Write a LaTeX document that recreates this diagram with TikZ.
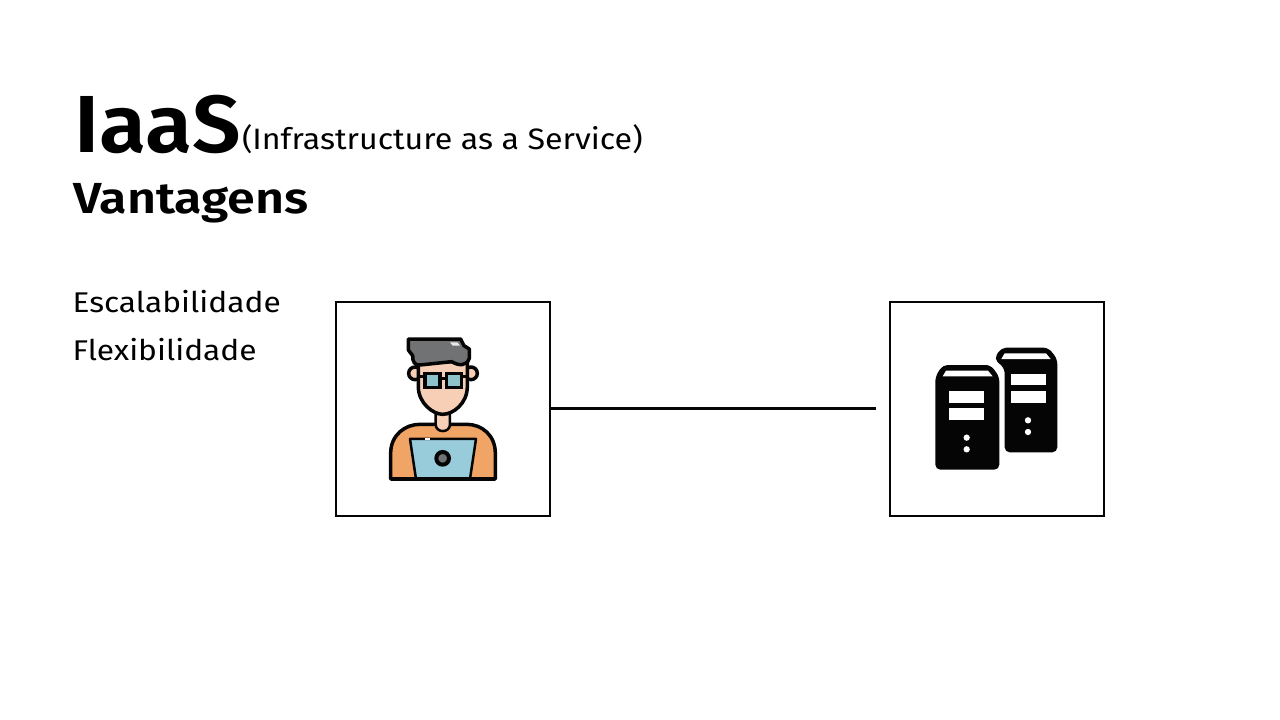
\documentclass[tikz,border=0pt]{standalone}
\usepackage{fontspec}
\setmainfont{Fira Sans}
\newfontfamily\titlefont[FakeStretch=1.06]{Fira Sans SemiBold}
\newfontfamily\subheadfont[FakeStretch=1.155]{Fira Sans SemiBold}
\newfontfamily\subtitlefont[FakeStretch=1.09]{Fira Sans}
\newfontfamily\listfont[FakeStretch=1.113]{Fira Sans}
\definecolor{hairgrey}{HTML}{707274}
\definecolor{skin}{HTML}{F6CFB6}
\definecolor{shirt}{HTML}{F0A566}
\definecolor{screen}{HTML}{98CCDB}
\definecolor{lens}{HTML}{8FC3CB}
\definecolor{ink}{HTML}{050505}
\tikzset{
  txt/.style={anchor=base west,inner sep=0pt,outer sep=0pt,text=black},
  iconbox/.style={draw=ink,line width=2.4pt,minimum width=214pt,minimum height=214pt,inner sep=0pt,fill=white},
  link/.style={draw=ink,line width=2.4pt},
  outl/.style={draw=ink,line width=3.5pt,line join=round,line cap=round}
}
\begin{document}
\begin{tikzpicture}[x=1pt,y=-1pt]
\useasboundingbox (0,0) rectangle (1280,720);
\fill[white] (0,0) rectangle (1280,720);

% Headings and list
\node[txt,font=\titlefont\fontsize{81}{81}\selectfont] (title) at (74,152) {IaaS};
\node[txt,font=\subtitlefont\fontsize{29.5}{30}\selectfont] (subtitle) at (242,149) {(Infrastructure as a Service)};
\node[txt,font=\subheadfont\fontsize{43.5}{44}\selectfont] (adv) at (73,213) {Vantagens};
\node[txt,font=\listfont\fontsize{28.5}{29}\selectfont] (esc) at (72.5,312) {Escalabilidade};
\node[txt,font=\listfont\fontsize{28.5}{29}\selectfont] (flex) at (72.5,360) {Flexibilidade};

% Boxes and link
\node[iconbox] (user) at (443,409) {};
\node[iconbox] (srv) at (997,409) {};
\coordinate (linkend) at (876,408.5);
\draw[link] (user.east |- linkend) -- (linkend);

% Person at a laptop
\begin{scope}[shift={(370,325)},x=0.3333pt,y=-0.3333pt]
  % ears
  \filldraw[outl,fill=skin] (135,145) circle (19);
  \filldraw[outl,fill=skin] (303,145) circle (19);
  % torso
  \filldraw[outl,fill=shirt] (62,462) -- (62,385) .. controls (62,330) and (105,298) .. (150,298)
     -- (290,298) .. controls (335,298) and (376,330) .. (376,385) -- (376,462) -- cycle;
  % neck
  \filldraw[outl,fill=skin,line width=2.5pt] (197,260) -- (197,298) .. controls (197,325) and (240,325) .. (240,298) -- (240,260) -- cycle;
  % face
  \filldraw[outl,fill=skin] (145,110) -- (145,185) .. controls (145,235) and (190,268) .. (218,268)
     .. controls (250,268) and (292,235) .. (292,185) -- (292,110) -- cycle;
  % hair
  \filldraw[outl,fill=hairgrey] (115,42) -- (272,42) -- (282,62) -- (298,72) -- (298,100)
     .. controls (290,125) and (265,122) .. (245,110) -- (150,120)
     .. controls (135,122) and (127,110) .. (128,92) -- (115,75) -- cycle;
  \fill[white!85!hairgrey] (240,52) -- (262,52) -- (270,62) -- (248,62) -- cycle;
  % glasses
  \filldraw[draw=ink,line width=3.2pt,fill=lens] (165,145) rectangle (210,187);
  \filldraw[draw=ink,line width=3.2pt,fill=lens] (230,145) rectangle (275,187);
  \draw[draw=ink,line width=2.5pt] (210,160) -- (230,160) (145,155) -- (165,155) (275,155) -- (292,155);
  % laptop
  \filldraw[draw=ink,line width=2.5pt,fill=screen,line join=round] (120,342) -- (318,342) -- (300,462) -- (138,462) -- cycle;
  \draw[white,line width=1.5pt] (165,342) -- (180,342);
  \filldraw[draw=ink,line width=4pt,fill=hairgrey] (218,400) circle (19);
  \draw[ink,line width=3.5pt] (62,462) -- (376,462);
\end{scope}

% Pair of tower servers
\begin{scope}[shift={(920,335)},x=0.3333pt,y=-0.3333pt]
  \fill[ink,rounded corners=5pt] (222,72) -- (244,38) -- (385,38) -- (412,72) -- (412,352) -- (254,352) -- (254,100) -- cycle;
  \fill[white] (244,72) -- (254,55) -- (378,55) -- (392,72) -- cycle;
  \fill[white] (272,116) rectangle (378,151);
  \fill[white] (272,168) rectangle (378,203);
  \fill[white] (324,256) circle (9.5);
  \fill[white] (324,291) circle (9.5);
  \fill[ink,rounded corners=5pt] (46,404) -- (46,125) -- (68,90) -- (212,90) -- (238,125) -- (238,404) -- cycle;
  \fill[white] (68,124) -- (78,107) -- (204,107) -- (218,124) -- cycle;
  \fill[white] (87,168) rectangle (193,204);
  \fill[white] (87,220) rectangle (193,256);
  \fill[white] (140,308) circle (9.5);
  \fill[white] (140,343) circle (9.5);
\end{scope}
\end{tikzpicture}
\end{document}
